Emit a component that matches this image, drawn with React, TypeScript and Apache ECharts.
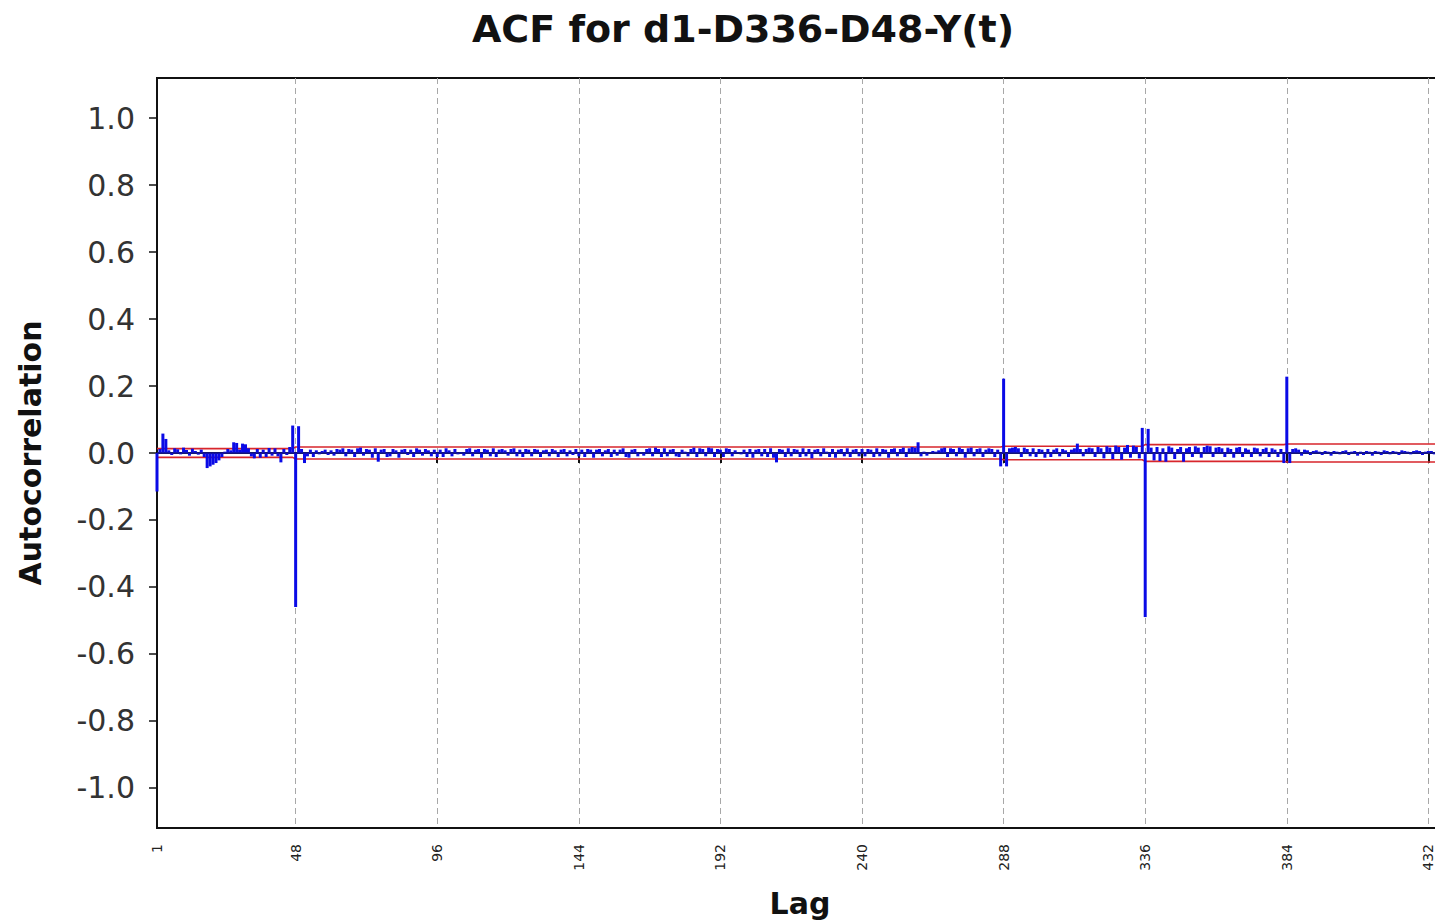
import React, { useEffect, useRef } from "react";
import * as echarts from "echarts";

// ACF values for lags 1..440
const acf: number[] = [
  -0.115, 0.012, 0.058, 0.042, 0.008, -0.006, 0.014, 0.011, -0.004, 0.016, 0.009, -0.008,
  0.013, 0.006, -0.005, 0.010, -0.012, -0.045, -0.040, -0.035, -0.030, -0.022, -0.012, 0.004,
  0.012, 0.008, 0.032, 0.030, 0.010, 0.028, 0.026, 0.014, -0.010, -0.016, 0.012, -0.014,
  0.010, -0.012, 0.015, -0.008, 0.014, -0.010, -0.028, 0.012, -0.006, 0.018, 0.082, -0.460,
  0.080, 0.012, -0.030, -0.010, 0.010, -0.012, 0.008, -0.004, 0.006, 0.010, -0.006, 0.008,
  -0.008, 0.012, 0.010, 0.014, -0.010, 0.012, 0.010, -0.012, 0.014, 0.016, -0.008, 0.012,
  0.010, -0.014, 0.014, -0.026, 0.010, 0.012, -0.012, -0.010, 0.012, 0.008, -0.014, 0.010,
  0.012, -0.006, 0.010, -0.012, 0.014, 0.010, -0.008, 0.012, 0.008, -0.010, 0.010, -0.012,
  0.010, -0.012, 0.014, 0.008, -0.010, 0.012, -0.004, 0.002, -0.008, 0.012, 0.014, -0.010,
  0.010, 0.012, -0.014, 0.012, 0.010, -0.010, 0.014, -0.012, 0.010, 0.012, 0.008, -0.008,
  0.012, 0.014, -0.010, 0.010, -0.012, 0.012, 0.010, -0.010, 0.012, 0.010, -0.012, 0.008,
  0.010, -0.010, 0.012, 0.008, -0.012, 0.010, 0.012, -0.010, 0.008, -0.006, 0.012, -0.010,
  0.010, -0.012, 0.012, 0.010, -0.014, 0.010, 0.012, -0.010, 0.008, 0.012, -0.012, 0.010,
  -0.008, 0.010, 0.014, -0.012, -0.014, 0.010, 0.012, -0.010, 0.002, -0.008, 0.012, 0.014,
  -0.010, 0.016, 0.012, -0.012, 0.014, -0.010, 0.010, 0.012, -0.010, -0.012, 0.010, 0.004,
  -0.010, 0.012, 0.016, -0.012, 0.014, 0.012, -0.010, 0.016, 0.014, -0.012, 0.012, 0.010,
  -0.012, 0.014, 0.012, -0.010, 0.008, 0.002, -0.004, 0.010, -0.012, 0.012, -0.014, 0.010,
  0.012, -0.010, 0.012, -0.012, 0.014, -0.014, -0.028, 0.012, 0.010, -0.012, 0.014, -0.010,
  0.012, 0.010, -0.012, 0.014, -0.010, 0.012, -0.016, 0.010, 0.012, -0.010, 0.014, 0.004,
  -0.012, 0.012, -0.014, 0.010, 0.012, -0.010, 0.014, -0.012, 0.010, 0.012, -0.010, 0.012,
  -0.010, 0.012, 0.010, -0.012, 0.014, -0.010, 0.012, 0.010, -0.014, 0.012, 0.014, -0.010,
  0.012, 0.016, -0.012, 0.014, 0.018, 0.016, 0.032, -0.010, 0.004, -0.008, 0.002, 0.006,
  0.004, 0.008, 0.014, 0.016, -0.012, 0.014, 0.012, -0.010, 0.016, 0.012, -0.014, 0.014,
  0.016, -0.010, 0.012, 0.014, -0.012, 0.010, 0.014, 0.012, -0.012, 0.010, -0.040, 0.222,
  -0.040, 0.014, 0.016, 0.018, 0.014, -0.012, 0.016, 0.012, -0.010, 0.014, -0.012, 0.012,
  0.010, -0.014, 0.012, -0.012, 0.010, 0.014, -0.010, 0.012, 0.008, -0.012, 0.010, 0.014,
  0.028, 0.012, -0.010, 0.012, 0.016, 0.014, -0.012, 0.018, 0.014, -0.016, 0.020, 0.016,
  -0.018, 0.022, 0.018, -0.020, 0.016, 0.024, -0.014, 0.022, 0.018, -0.016, 0.075, -0.490,
  0.072, 0.016, -0.022, 0.018, -0.024, 0.014, -0.026, 0.020, 0.016, -0.018, 0.012, 0.018,
  -0.026, 0.014, 0.018, -0.012, 0.020, 0.016, -0.014, 0.018, 0.022, 0.020, -0.012, 0.016,
  0.018, 0.014, -0.012, 0.016, 0.012, -0.014, 0.016, 0.018, -0.012, 0.014, 0.010, -0.012,
  0.016, 0.014, -0.010, 0.012, 0.016, -0.012, 0.014, 0.010, -0.012, 0.012, -0.030, 0.228,
  -0.030, 0.012, 0.014, 0.010, -0.008, 0.010, 0.008, -0.006, 0.006, 0.008, 0.004, -0.006,
  0.006, 0.004, -0.008, 0.006, 0.004, -0.004, 0.006, 0.008, -0.006, 0.004, 0.006, -0.008,
  0.004, -0.006, 0.006, 0.004, -0.008, 0.006, 0.004, -0.006, 0.008, 0.006, -0.004, 0.006,
  0.004, -0.006, 0.008, 0.006, 0.004, -0.004, 0.006, 0.008, 0.006, -0.006, 0.004, 0.006,
  0.006, -0.004, 0.004, 0.006, -0.004, 0.004, 0.006, 0.004,
];

// Lag categories
const lags: string[] = acf.map((_, i) => String(i + 1));

// Labelled lags on the x axis
const tickLags: number[] = [1, 48, 96, 144, 192, 240, 288, 336, 384, 432];

// Confidence band (stepwise): starting lag and half-width
const bandStartLag: number[] = [1, 48, 288, 336, 384];
const bandLevel: number[] = [0.013, 0.018, 0.02, 0.025, 0.027];

// Y axis labels
const yTicks: number[] = [-1.0, -0.8, -0.6, -0.4, -0.2, 0.0, 0.2, 0.4, 0.6, 0.8, 1.0];

function levelFor(lag: number): number {
  let lv = bandLevel[0];
  for (let i = 0; i < bandStartLag.length; i++) {
    if (lag >= bandStartLag[i]) lv = bandLevel[i];
  }
  return lv;
}

export default function App() {
  const ref = useRef<HTMLDivElement>(null);
  useEffect(() => {
    if (!ref.current) return;
    const chart = echarts.init(ref.current, undefined, { renderer: "svg" });
    const upper = lags.map((l) => levelFor(Number(l)));
    const lower = lags.map((l) => -levelFor(Number(l)));
    const isTick = (_i: number, v: string) => tickLags.indexOf(Number(v)) >= 0;
    const isGrid = (_i: number, v: string) => Number(v) % 48 === 0;
    const font = "DejaVu Sans, Verdana, sans-serif";

    chart.setOption({
      animation: false,
      backgroundColor: "#ffffff",
      grid: {
        left: 157,
        top: 78,
        bottom: 95,
        right: 0,
        show: true,
        borderColor: "#111",
        borderWidth: 2,
        backgroundColor: "transparent",
      },
      graphic: [
        {
          type: "text",
          x: 743,
          y: 29,
          style: {
            text: "ACF for d1-D336-D48-Y(t)",
            font: `bold 38px ${font}`,
            fill: "#111",
            align: "center",
            verticalAlign: "middle",
          },
        },
        {
          type: "text",
          x: 30,
          y: 453,
          rotation: Math.PI / 2,
          style: {
            text: "Autocorrelation",
            font: `bold 30px ${font}`,
            fill: "#111",
            align: "center",
            verticalAlign: "middle",
          },
        },
        {
          type: "text",
          x: 800,
          y: 903,
          style: {
            text: "Lag",
            font: `bold 30px ${font}`,
            fill: "#111",
            align: "center",
            verticalAlign: "middle",
          },
        },
      ],
      xAxis: {
        type: "category",
        data: lags,
        boundaryGap: false,
        axisLine: { lineStyle: { color: "#111", width: 2 } },
        axisTick: {
          interval: isTick,
          length: 10,
          lineStyle: { color: "#111", width: 2 },
        },
        axisLabel: {
          interval: isTick,
          rotate: 90,
          fontSize: 14,
          color: "#222",
          margin: 16,
          fontFamily: font,
        },
        splitLine: {
          show: true,
          interval: isGrid,
          lineStyle: { color: "#a8a8a8", width: 1, type: [6, 4] },
        },
      },
      yAxis: {
        type: "value",
        min: -1.12,
        max: 1.12,
        axisLine: { show: true, lineStyle: { color: "#111", width: 2 } },
        axisTick: {
          show: true,
          length: 8,
          customValues: yTicks,
          lineStyle: { color: "#111", width: 1.5 },
        },
        axisLabel: {
          customValues: yTicks,
          formatter: (v: number) => v.toFixed(1),
          fontSize: 30,
          color: "#333",
          margin: 22,
          fontFamily: font,
        },
        splitLine: { show: false },
      },
      series: [
        {
          type: "line",
          data: upper,
          symbol: "none",
          z: 1,
          lineStyle: { color: "#d8262c", width: 1.6 },
          silent: true,
        },
        {
          type: "line",
          data: lower,
          symbol: "none",
          z: 1,
          lineStyle: { color: "#d8262c", width: 1.6 },
          silent: true,
        },
        {
          type: "bar",
          data: acf,
          barWidth: 3,
          z: 3,
          itemStyle: { color: "#0a0ae6" },
          markLine: {
            silent: true,
            symbol: ["none", "none"],
            label: { show: false },
            lineStyle: { color: "#16169a", width: 1.5, type: "solid" },
            data: [{ yAxis: 0 }],
          },
        },
      ],
    });
    return () => chart.dispose();
  }, []);

  return (
    <div
      style={{
        position: "fixed",
        left: 0,
        top: 0,
        width: 1435,
        height: 923,
        overflow: "hidden",
        background: "#fff",
      }}
    >
      <div ref={ref} style={{ width: 1452, height: 923 }} />
    </div>
  );
}
